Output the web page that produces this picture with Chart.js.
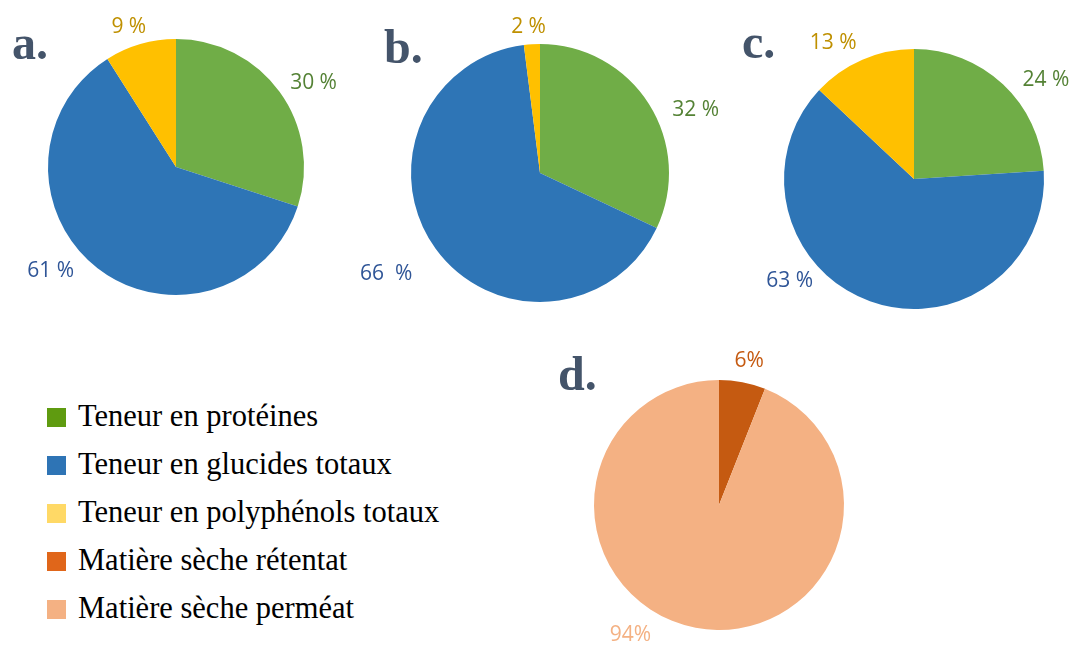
<!DOCTYPE html>
<html>
<head>
<meta charset="utf-8">
<script src="https://cdn.jsdelivr.net/npm/chart.js@4/dist/chart.umd.min.js"></script>
<style>
  html, body { margin: 0; padding: 0; background: #fff; }
  #stage { position: relative; width: 1071px; height: 646px; overflow: hidden; }
  #stage canvas { position: absolute; }
  .panel-letter {
    position: absolute;
    font-family: 'Liberation Serif', 'Times New Roman', serif;
    font-weight: bold;
    font-size: 48px;
    line-height: 1;
    color: #44546a;
  }
  .legend { position: absolute; left: 47px; top: 392px; }
  .legend-row {
    display: flex;
    align-items: center;
    height: 48px;
    font-family: 'Liberation Serif', 'Times New Roman', serif;
    font-size: 30.5px;
    color: #000;
  }
  .legend-box { width: 19px; height: 19px; margin-right: 12px; position: relative; top: 1px; }
</style>
</head>
<body>
<div id="stage">
  <canvas id="pie-a"></canvas>
  <canvas id="pie-b"></canvas>
  <canvas id="pie-c"></canvas>
  <canvas id="pie-d"></canvas>
  <div class="panel-letter" style="left:12px;top:19px;">a.</div>
  <div class="panel-letter" style="left:384px;top:23px;">b.</div>
  <div class="panel-letter" style="left:742px;top:18px;">c.</div>
  <div class="panel-letter" style="left:558px;top:350px;">d.</div>
  <div class="legend" id="legend"></div>
</div>
<script>
// data
const categoriesABC = ['Teneur en protéines', 'Teneur en glucides totaux', 'Teneur en polyphénols totaux'];
const categoriesD = ['Matière sèche rétentat', 'Matière sèche perméat'];

const valuesA = [30, 61, 9];
const valuesB = [32, 66, 2];
const valuesC = [24, 63, 13];
const valuesD = [6, 94];

const labelsA = ['30 %', '61 %', '9 %'];
const labelsB = ['32 %', '66  %', '2 %'];
const labelsC = ['24 %', '63 %', '13 %'];
const labelsD = ['6%', '94%'];

// styles
const sliceColorsABC = ['#70ad47', '#2e75b6', '#ffc000'];
const sliceColorsD = ['#c55a11', '#f4b183'];
const labelColorsABC = ['#548235', '#2f5597', '#bf9000'];
const labelColorsD = ['#c55a11', '#f4b183'];

const legendLabels = [...categoriesABC, ...categoriesD];
const legendColors = ['#5f9b10', '#2e74b5', '#ffd966', '#e0661a', '#f4b183'];

// label nudges: extra angle (deg) from slice middle, and distance beyond the rim
const nudgeA = [{ da: 4.7, dr: 33 }, { da: 12.4, dr: 35 }, { da: -2.4, dr: 20 }];
const nudgeB = [{ da: 10.3, dr: 39 }, { da: 2.7, dr: 55 }, { da: -0.9, dr: 17 }];
const nudgeC = [{ da: 9.9, dr: 35 }, { da: 30.8, dr: 31 }, { da: -7.4, dr: 28 }];
const nudgeD = [{ da: 1, dr: 22 }, { da: 23.5, dr: 32 }];

const outLabelsPlugin = {
  id: 'outLabels',
  afterDatasetsDraw(chart, _args, opts) {
    const { ctx } = chart;
    const meta = chart.getDatasetMeta(0);
    ctx.save();
    ctx.font = '21px "Open Sans", sans-serif';
    ctx.textAlign = 'center';
    ctx.textBaseline = 'middle';
    meta.data.forEach((arc, i) => {
      const { x, y, startAngle, endAngle, outerRadius } = arc.getProps(['x', 'y', 'startAngle', 'endAngle', 'outerRadius'], true);
      const nudge = opts.nudges[i] || { da: 0, dr: 25 };
      const mid = (startAngle + endAngle) / 2 + (nudge.da * Math.PI) / 180;
      const dist = outerRadius + nudge.dr;
      ctx.fillStyle = opts.colors[i];
      ctx.fillText(opts.texts[i], x + Math.cos(mid) * dist, y + Math.sin(mid) * dist);
    });
    ctx.restore();
  },
};

function makePie(id, cx, cy, radius, categories, values, colors, texts, textColors, nudges) {
  const pad = 85;
  const size = 2 * (radius + pad);
  const canvas = document.getElementById(id);
  canvas.width = size;
  canvas.height = size;
  canvas.style.left = `${cx - size / 2}px`;
  canvas.style.top = `${cy - size / 2}px`;

  return new Chart(canvas.getContext('2d'), {
    type: 'pie',
    data: {
      labels: categories,
      datasets: [{
        data: values,
        backgroundColor: colors,
        borderWidth: 0,
      }],
    },
    options: {
      responsive: false,
      animation: false,
      layout: { padding: pad },
      plugins: {
        legend: { display: false },
        tooltip: { enabled: false },
        outLabels: { texts, colors: textColors, nudges },
      },
    },
    plugins: [outLabelsPlugin],
  });
}

makePie('pie-a', 176, 167, 128, categoriesABC, valuesA, sliceColorsABC, labelsA, labelColorsABC, nudgeA);
makePie('pie-b', 539.5, 173, 129, categoriesABC, valuesB, sliceColorsABC, labelsB, labelColorsABC, nudgeB);
makePie('pie-c', 914, 179, 130, categoriesABC, valuesC, sliceColorsABC, labelsC, labelColorsABC, nudgeC);
makePie('pie-d', 719, 505, 125, categoriesD, valuesD, sliceColorsD, labelsD, labelColorsD, nudgeD);

const legend = document.getElementById('legend');
legend.innerHTML = legendLabels
  .map((label, i) => `<div class="legend-row"><span class="legend-box" style="background:${legendColors[i]}"></span><span>${label}</span></div>`)
  .join('');
</script>
</body>
</html>
